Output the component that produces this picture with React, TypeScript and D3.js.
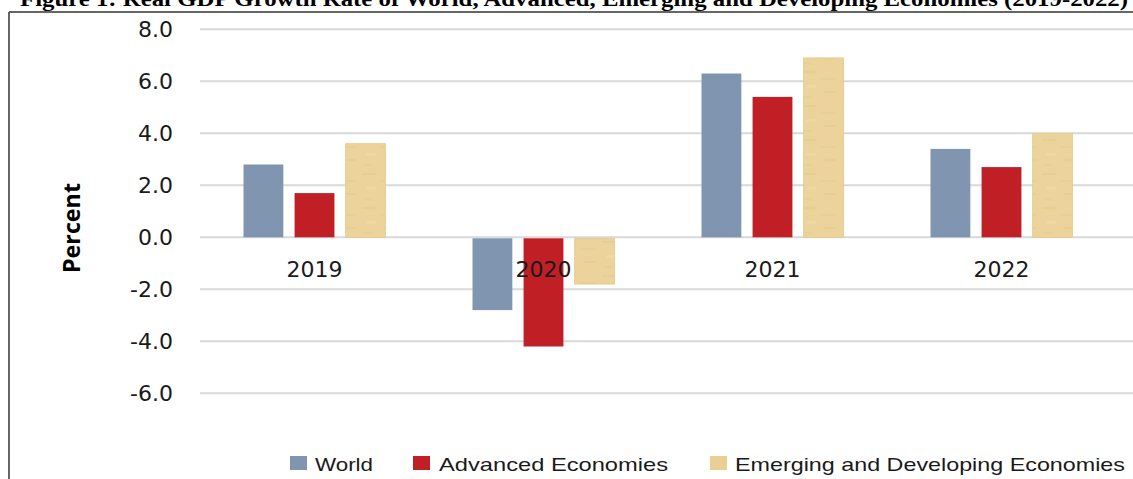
import React from "react";
import * as d3 from "d3";

const categories = ["2019", "2020", "2021", "2022"];
const seriesNames = ["World", "Advanced Economies", "Emerging and Developing Economies"];
const world = [2.8, -2.8, 6.3, 3.4];
const advanced = [1.7, -4.2, 5.4, 2.7];
const emerging = [3.6, -1.8, 6.9, 4.0];
const yTicks = [-6, -4, -2, 0, 2, 4, 6, 8];
const title = "Figure 1: Real GDP Growth Rate of World, Advanced, Emerging and Developing Economies (2019-2022)";

const W = 1133;
const H = 479;

export default function App() {
  const series = [world, advanced, emerging];
  const colors = ["#8096b0", "#c01f26", "url(#papyrus)"];
  const legendColors = ["#8096b0", "#c01f26", "#e9cf94"];

  const y = d3.scaleLinear().domain([-6, 8]).range([393.3, 29.3]);
  const x0 = d3.scaleBand<string>().domain(categories).range([200, 1116]).padding(0);
  const x1 = d3.scaleBand<string>().domain(seriesNames).range([-71, 71]).paddingInner(0.22).paddingOuter(0);

  const legendItems = [
    { sx: 290, tx: 315, tl: 58 },
    { sx: 413, tx: 439, tl: 229 },
    { sx: 710, tx: 735, tl: 390 },
  ];

  return (
    <svg width={W} height={H} style={{ position: "absolute", left: 0, top: 0, background: "#fff" }}>
      <defs>
        <pattern id="papyrus" width="40" height="34" patternUnits="userSpaceOnUse">
          <rect width="40" height="34" fill="#ebd39b" />
          <rect x="2" y="3" width="14" height="2" fill="#e4ca8c" opacity="0.5" />
          <rect x="20" y="10" width="16" height="2" fill="#e4ca8c" opacity="0.45" />
          <rect x="6" y="17" width="10" height="3" fill="#f0daa8" opacity="0.6" />
          <rect x="24" y="23" width="12" height="2" fill="#e2c785" opacity="0.45" />
          <rect x="4" y="28" width="8" height="2" fill="#e5cb8d" opacity="0.5" />
        </pattern>
      </defs>
      <rect width={W} height={H} fill="#fff" />
      <text
        x={20}
        y={6}
        fontFamily="'Liberation Serif', 'Times New Roman', serif"
        fontWeight="bold"
        fontSize={20}
        textLength={1108}
        lengthAdjust="spacingAndGlyphs"
        fill="#000"
      >
        {title}
      </text>
      <line x1={9} x2={W} y1={12} y2={12} stroke="#333" strokeWidth={1.5} />
      <line x1={9} x2={9} y1={12} y2={H} stroke="#333" strokeWidth={1.5} />

      {yTicks.map((t) => (
        <g key={t}>
          <line x1={200} x2={W} y1={y(t)} y2={y(t)} stroke="#d9d9d9" strokeWidth={2} />
          <text
            x={173}
            y={y(t) + 7.5}
            textAnchor="end"
            fontFamily="'DejaVu Sans', sans-serif"
            fontSize={22}
            fill="#1a1a1a"
          >
            {t.toFixed(1)}
          </text>
        </g>
      ))}

      <text
        transform="translate(70,228) rotate(-90)"
        textAnchor="middle"
        dominantBaseline="central"
        fontFamily="'Open Sans', 'DejaVu Sans', sans-serif"
        fontWeight="bold"
        fontSize={24}
        textLength={90}
        lengthAdjust="spacingAndGlyphs"
        fill="#000"
      >
        Percent
      </text>

      {categories.map((c, ci) => {
        const cx = (x0(c) as number) + x0.bandwidth() / 2;
        return (
          <g key={c}>
            {series.map((s, si) => {
              const v = s[ci];
              const bx = cx + (x1(seriesNames[si]) as number);
              const top = v >= 0 ? y(v) : y(0) + 1;
              const h = v >= 0 ? y(0) - y(v) : y(v) - y(0) - 1;
              return (
                <rect
                  key={si}
                  x={bx}
                  y={top}
                  width={x1.bandwidth()}
                  height={h}
                  fill={colors[si]}
                  stroke={si === 2 ? "#e6c983" : "none"}
                  strokeWidth={si === 2 ? 0.8 : 0}
                />
              );
            })}
          </g>
        );
      })}

      {categories.map((c) => {
        const cx = (x0(c) as number) + x0.bandwidth() / 2;
        return (
          <text
            key={c}
            x={cx}
            y={277}
            textAnchor="middle"
            fontFamily="'DejaVu Sans', sans-serif"
            fontSize={22}
            fill="#1a1a1a"
          >
            {c}
          </text>
        );
      })}

      {seriesNames.map((n, i) => (
        <g key={n}>
          <rect x={legendItems[i].sx} y={456} width={17} height={14} fill={legendColors[i]} />
          <text
            x={legendItems[i].tx}
            y={471}
            fontFamily="'Liberation Sans', Arial, sans-serif"
            fontSize={19}
            textLength={legendItems[i].tl}
            lengthAdjust="spacingAndGlyphs"
            fill="#1a1a1a"
          >
            {n}
          </text>
        </g>
      ))}
    </svg>
  );
}
